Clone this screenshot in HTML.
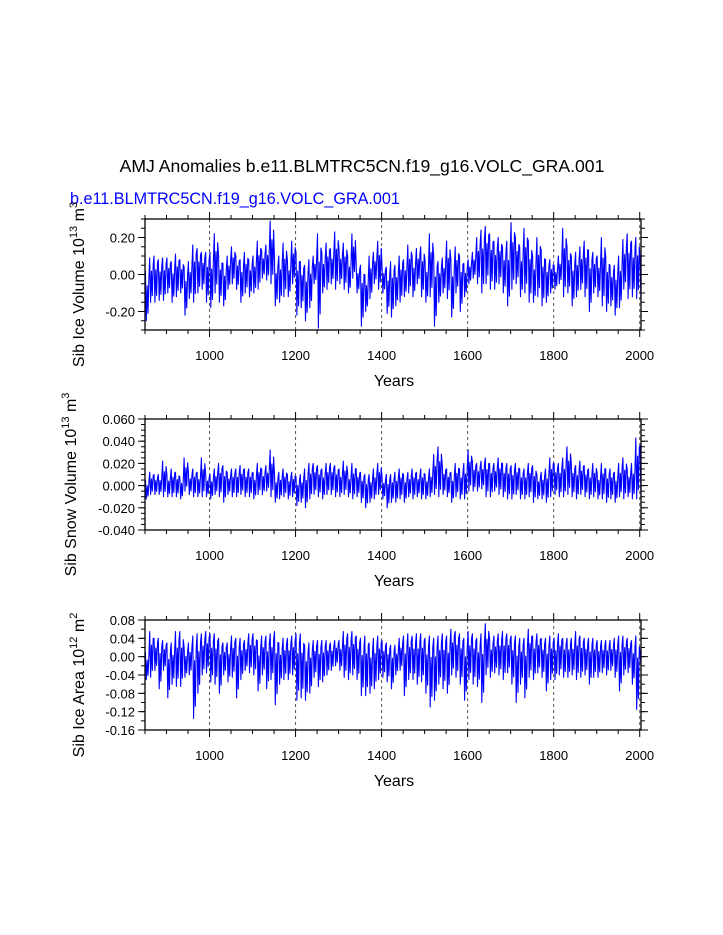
<!DOCTYPE html>
<html><head><meta charset="utf-8"><style>
html,body{margin:0;padding:0;background:#fff;}
svg{display:block;font-family:"Liberation Sans",sans-serif;}
</style></head><body>
<svg id="c" width="723" height="935" viewBox="0 0 723 935">
<text x="362" y="172" font-size="17.6" text-anchor="middle">AMJ Anomalies b.e11.BLMTRC5CN.f19_g16.VOLC_GRA.001</text>
<text x="70" y="204" font-size="16.2" fill="#0000ff">b.e11.BLMTRC5CN.f19_g16.VOLC_GRA.001</text>
</svg>
<script>
const decades=[];for(let d=850;d<=2000;d+=10)decades.push(d);
const iceVolHi=[0.02,0.09,0.10,0.08,0.09,0.09,0.07,0.11,0.08,0.04,0.07,0.16,0.14,0.12,0.12,0.12,0.22,0.10,0.06,0.10,0.15,0.10,0.08,0.12,0.08,0.10,0.18,0.13,0.16,0.29,0.08,0.10,0.17,0.08,0.18,0.12,0.07,0.05,0.08,0.10,0.22,0.12,0.17,0.14,0.23,0.14,0.17,0.10,0.22,0.05,0.05,0.0,0.10,0.12,0.18,0.05,0.04,0.07,0.05,0.10,0.08,0.16,0.10,0.14,0.15,0.08,0.22,0.10,0.07,0.09,0.18,0.08,0.15,0.10,0.06,0.08,0.12,0.20,0.24,0.26,0.22,0.18,0.20,0.15,0.18,0.28,0.20,0.15,0.25,0.18,0.10,0.20,0.13,0.08,0.08,0.05,0.10,0.25,0.15,0.10,0.12,0.15,0.18,0.13,0.12,0.10,0.20,0.10,0.05,0.05,0.10,0.19,0.22,0.18,0.20,0.08];
const iceVolLo=[-0.25,-0.15,-0.15,-0.14,-0.14,-0.10,-0.15,-0.12,-0.10,-0.22,-0.13,-0.15,-0.10,-0.08,-0.15,-0.18,-0.10,-0.15,-0.17,-0.08,-0.05,-0.08,-0.15,-0.10,-0.12,-0.10,-0.08,-0.02,-0.03,-0.05,-0.17,-0.15,-0.12,-0.12,-0.05,-0.22,-0.18,-0.25,-0.18,-0.05,-0.29,-0.10,-0.08,-0.05,-0.08,-0.05,-0.08,-0.10,-0.02,-0.10,-0.28,-0.20,-0.13,-0.05,-0.08,-0.10,-0.21,-0.23,-0.17,-0.15,-0.12,-0.10,-0.12,-0.05,-0.12,-0.15,-0.12,-0.28,-0.15,-0.10,-0.13,-0.23,-0.10,-0.20,-0.12,-0.05,-0.02,-0.05,-0.10,-0.05,-0.08,-0.08,-0.05,-0.10,-0.17,-0.08,-0.05,-0.12,-0.10,-0.15,-0.15,-0.12,-0.17,-0.15,-0.10,-0.08,-0.05,-0.12,-0.10,-0.17,-0.12,-0.08,-0.12,-0.20,-0.10,-0.12,-0.17,-0.20,-0.17,-0.22,-0.18,-0.08,-0.13,-0.12,-0.13,-0.15];
const snowHi=[.005,.012,.01,.01,.022,.01,.015,.012,.008,.025,.012,.015,.012,.025,.01,.01,.015,.02,.018,.012,.015,.015,.018,.015,.015,.012,.02,.015,.018,.032,.01,.012,.015,.01,.012,.008,.01,.015,.02,.02,.018,.015,.02,.02,.018,.015,.022,.012,.02,.015,.012,.01,.01,.015,.02,.008,.01,.01,.012,.015,.01,.012,.015,.012,.015,.01,.015,.028,.035,.018,.015,.012,.02,.015,.02,.032,.022,.02,.022,.025,.02,.02,.025,.02,.02,.018,.02,.015,.015,.02,.018,.01,.012,.015,.025,.02,.02,.025,.035,.02,.018,.022,.018,.015,.02,.012,.02,.015,.015,.012,.02,.025,.015,.02,.043,.036];
const snowLo=[-.012,-.008,-.008,-.008,-.01,-.01,-.01,-.01,-.012,-.005,-.008,-.01,-.01,-.01,-.01,-.012,-.008,-.01,-.015,-.008,-.01,-.01,-.008,-.01,-.01,-.012,-.008,-.008,-.005,-.01,-.015,-.012,-.01,-.012,-.01,-.018,-.015,-.02,-.012,-.008,-.01,-.012,-.008,-.008,-.01,-.01,-.008,-.01,-.012,-.01,-.015,-.02,-.015,-.012,-.008,-.012,-.02,-.015,-.015,-.012,-.015,-.01,-.012,-.01,-.012,-.012,-.01,-.008,-.01,-.008,-.01,-.015,-.01,-.012,-.012,-.005,-.005,-.005,-.003,-.01,-.01,-.005,-.008,-.01,-.012,-.012,-.008,-.012,-.012,-.01,-.015,-.012,-.012,-.015,-.01,-.008,-.01,-.01,-.008,-.01,-.012,-.008,-.01,-.012,-.01,-.012,-.012,-.015,-.012,-.015,-.01,-.012,-.01,-.012,-.012,-.012];
const areaHi=[.01,.055,.04,.04,.035,.03,.03,.055,.055,.02,.03,.045,.05,.05,.055,.05,.05,.04,.03,.03,.045,.04,.04,.035,.05,.05,.035,.045,.045,.05,.055,.03,.04,.04,.045,.05,.05,.025,.03,.035,.035,.035,.035,.03,.035,.035,.055,.05,.055,.045,.04,.045,.03,.04,.045,.035,.03,.025,.025,.04,.045,.05,.045,.05,.05,.04,.045,.04,.045,.05,.045,.06,.055,.05,.04,.055,.05,.04,.05,.072,.04,.045,.05,.055,.05,.045,.045,.04,.04,.06,.045,.05,.04,.04,.045,.04,.05,.04,.04,.04,.055,.045,.04,.04,.04,.035,.035,.035,.035,.04,.045,.045,.04,.035,.045,.01];
const areaLo=[-.05,-.045,-.03,-.07,-.03,-.09,-.06,-.065,-.065,-.045,-.04,-.135,-.08,-.04,-.035,-.055,-.06,-.08,-.04,-.055,-.045,-.09,-.05,-.03,-.035,-.04,-.075,-.04,-.07,-.05,-.105,-.06,-.05,-.05,-.04,-.095,-.09,-.095,-.08,-.045,-.065,-.055,-.04,-.03,-.02,-.03,-.045,-.05,-.04,-.05,-.085,-.085,-.08,-.07,-.05,-.045,-.055,-.07,-.04,-.03,-.085,-.05,-.05,-.06,-.055,-.08,-.11,-.095,-.06,-.07,-.08,-.04,-.045,-.06,-.095,-.05,-.06,-.065,-.1,-.04,-.045,-.035,-.04,-.05,-.035,-.06,-.1,-.06,-.09,-.045,-.05,-.035,-.045,-.075,-.05,-.05,-.04,-.045,-.045,-.04,-.05,-.045,-.04,-.06,-.045,-.045,-.035,-.04,-.03,-.045,-.075,-.04,-.035,-.06,-.115,-.02];
const xTicks=[1000,1200,1400,1600,1800,2000];
const vTicks=[-0.2,0,0.2];const sTicks=[-0.04,-0.02,0,0.02,0.04,0.06];const aTicks=[-0.16,-0.12,-0.08,-0.04,0,0.04,0.08];

const NS="http://www.w3.org/2000/svg";const svg=document.getElementById('c');
function mk(t,a,p){const e=document.createElementNS(NS,t);for(const k in a)e.setAttribute(k,a[k]);(p||svg).appendChild(e);return e;}
const X0=145,X1=641,YMIN=850,YMAX=2003;
const sx=y=>X0+(y-YMIN)/(YMAX-YMIN)*(X1-X0);
const panels=[
 {top:219,bot:330,vmin:-0.3,vmax:0.3,hi:iceVolHi,lo:iceVolLo,ticks:vTicks,minor:0.05,dec:2,title:"Sib Ice Volume 10",sup:"13",unit:" m",usup:"3",tx:84,key:"ice-volume"},
 {top:419,bot:530,vmin:-0.04,vmax:0.06,hi:snowHi,lo:snowLo,ticks:sTicks,minor:0.005,dec:3,title:"Sib Snow Volume 10",sup:"13",unit:" m",usup:"3",tx:76,key:"snow-volume"},
 {top:620,bot:730,vmin:-0.16,vmax:0.08,hi:areaHi,lo:areaLo,ticks:aTicks,minor:0.02,dec:2,title:"Sib Ice Area 10",sup:"12",unit:" m",usup:"2",tx:84,key:"ice-area"}];
const fr=[1,0,0.7,0.15,0.85];
panels.forEach(p=>{
 const g=mk('g',{});
 
 
 const sy=v=>p.bot-(v-p.vmin)/(p.vmax-p.vmin)*(p.bot-p.top);
 xTicks.forEach(t=>{const l=mk('line',{x1:sx(t),x2:sx(t),y1:p.top,y2:p.bot,stroke:'#555','stroke-width':1,'stroke-dasharray':'3,3'},g);
  });
 let pts=[];
 decades.forEach((d,i)=>{fr.forEach((f,k)=>{const yr=d+1+2*k;if(yr>YMAX)return;const v=p.lo[i]+f*(p.hi[i]-p.lo[i]);pts.push(sx(yr).toFixed(1)+','+sy(v).toFixed(1));});});
 const pl=mk('polyline',{points:pts.join(' '),fill:'none',stroke:'#0000ff','stroke-width':1.1,'stroke-linejoin':'round'},g);
 
 
 const fb=mk('rect',{x:X0,y:p.top,width:X1-X0,height:p.bot-p.top,fill:'none',stroke:'#000','stroke-width':1.3},g);
 
 
 for(let yr=850;yr<=2000;yr+=50){const m=yr%200===0;const L=m?7:4;
  mk('line',{x1:sx(yr),x2:sx(yr),y1:p.bot,y2:p.bot+L,stroke:'#000'},g);mk('line',{x1:sx(yr),x2:sx(yr),y1:p.top,y2:p.top-L,stroke:'#000'},g);}
 xTicks.forEach(t=>{const e=mk('text',{x:sx(t),y:p.bot+30,'font-size':13,'text-anchor':'middle'},g);e.textContent=t;
  });
 for(let v=p.vmin;v<=p.vmax+1e-9;v+=p.minor){mk('line',{x1:X0,x2:X0-4,y1:sy(v),y2:sy(v),stroke:'#000'},g);mk('line',{x1:X1,x2:X1+4,y1:sy(v),y2:sy(v),stroke:'#000'},g);}
 p.ticks.forEach(t=>{mk('line',{x1:X0,x2:X0-7,y1:sy(t),y2:sy(t),stroke:'#000'},g);mk('line',{x1:X1,x2:X1+7,y1:sy(t),y2:sy(t),stroke:'#000'},g);
  const e=mk('text',{x:X0-10,y:sy(t)+5,'font-size':13,'text-anchor':'end'},g);e.textContent=t.toFixed(p.dec);
  });
 const xt=mk('text',{x:394,y:p.bot+56,'font-size':16,'text-anchor':'middle'},g);xt.textContent='Years';
 
 const cy=(p.top+p.bot)/2;
 const yt=mk('text',{x:0,y:0,'font-size':16,'text-anchor':'middle',transform:`translate(${p.tx},${cy+10}) rotate(-90)`},g);
 
 const a=mk('tspan',{},yt);a.textContent=p.title;
 const b=mk('tspan',{dy:-7,'font-size':11},yt);b.textContent=p.sup;
 const c=mk('tspan',{dy:7},yt);c.textContent=p.unit;
 const d=mk('tspan',{dy:-7,'font-size':11},yt);d.textContent=p.usup;
});
</script>
</body></html>
